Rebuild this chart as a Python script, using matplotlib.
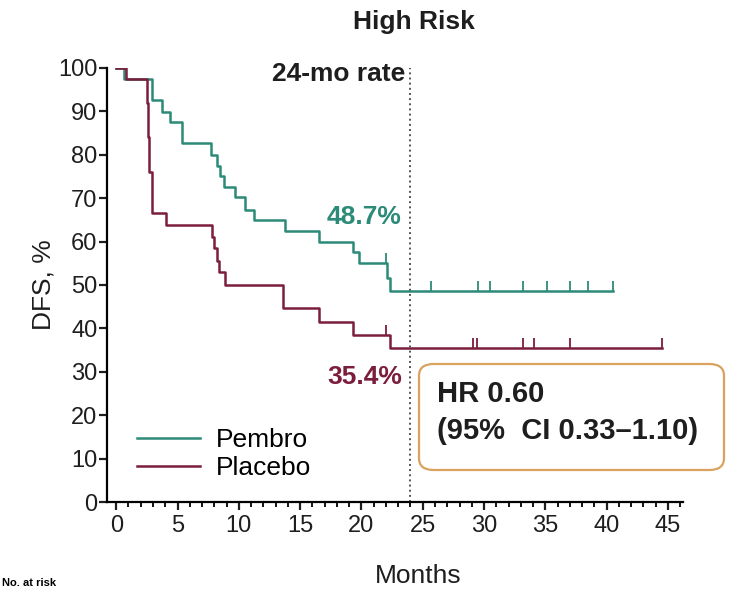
import matplotlib.pyplot as plt
from matplotlib.patches import FancyBboxPatch
import numpy as np

plt.rcParams['font.family'] = ['Liberation Sans', 'DejaVu Sans']

# Kaplan-Meier steps (time in months, DFS % after the step)
pembro_t = [0.6, 2.9, 3.7, 4.4, 5.4, 7.7, 8.2, 8.5, 8.8, 9.7, 10.5, 11.2, 13.8, 16.5, 19.3, 19.8, 22.1, 22.3]
pembro_s = [97.4, 92.6, 89.9, 87.6, 82.6, 80.0, 77.5, 75.0, 72.6, 70.3, 67.3, 65.0, 62.5, 60.0, 57.5, 55.0, 51.5, 48.7]
pembro_end = 40.5
pembro_cens = [22.0, 25.7, 29.5, 30.5, 33.2, 35.1, 37.0, 38.5, 40.5]

placebo_t = [0.8, 2.5, 2.6, 2.7, 2.9, 4.1, 7.8, 8.0, 8.2, 8.4, 8.9, 13.6, 16.5, 19.3, 22.3]
placebo_s = [97.4, 92.0, 84.0, 76.0, 66.5, 63.8, 61.0, 58.5, 55.5, 53.1, 50.0, 44.6, 41.5, 38.5, 35.4]
placebo_end = 44.5
placebo_cens = [22.0, 29.1, 29.4, 33.2, 34.1, 37.0, 44.5]

green = '#2c8a78'
maroon = '#7b1e3c'
txt = '#1e1e1e'


def km_level(times, surv, t):
    lvl = 100.0
    for ti, si in zip(times, surv):
        if ti <= t:
            lvl = si
    return lvl


fig = plt.figure(figsize=(7.38, 5.9), dpi=100)
ax = fig.add_axes([0.145, 0.149, 0.78, 0.736])

for times, surv, end, cens, col, name in [
        (pembro_t, pembro_s, pembro_end, pembro_cens, green, 'Pembro'),
        (placebo_t, placebo_s, placebo_end, placebo_cens, maroon, 'Placebo')]:
    x = [0] + times + [end]
    y = [100] + surv + [surv[-1]]
    ax.step(x, y, where='post', color=col, lw=1.8, label=name)
    cy = [km_level(times, surv, c) for c in cens]
    ax.plot(cens, cy, ls='none', marker=2, ms=7, mew=1.3, color=col)

ax.axvline(24, color='#555555', ls=':', lw=1.4)

ax.set_xlim(-0.75, 46.2)
ax.set_ylim(0, 100)
ax.set_xticks(np.arange(0, 46, 5))
ax.set_xticks(np.arange(0, 47, 1), minor=True)
ax.set_yticks(np.arange(0, 101, 10))
for s in ['top', 'right']:
    ax.spines[s].set_visible(False)
for s in ['left', 'bottom']:
    ax.spines[s].set_linewidth(1.6)
ax.tick_params(axis='both', which='major', width=1.6, length=6, labelsize=17, colors=txt)
ax.tick_params(axis='y', pad=1)
ax.tick_params(axis='x', which='minor', width=1.3, length=3.5)

ax.set_ylabel('DFS, %', fontsize=19, color=txt)
ax.yaxis.set_label_coords(-0.09, 0.5)
ax.set_xlabel('Months', fontsize=19, color=txt, va='center')
ax.xaxis.set_label_coords(0.54, -0.17)

fig.text(0.561, 0.962, 'High Risk', fontsize=19, fontweight='bold', ha='center', va='center', color=txt)

ax.text(23.55, 98.6, '24-mo rate', fontsize=19, fontweight='bold', ha='right', va='center', color=txt)
ax.text(23.3, 65.7, '48.7%', fontsize=19, fontweight='bold', ha='right', va='center', color=green)
ax.text(23.3, 28.8, '35.4%', fontsize=19, fontweight='bold', ha='right', va='center', color=maroon)

# HR box, in figure pixels
box = FancyBboxPatch((419 / 738, 1 - 470 / 590), 305 / 738, 106 / 590,
                     boxstyle='round,pad=0,rounding_size=0.02', transform=fig.transFigure,
                     fc='white', ec='#d9a25e', lw=1.6, clip_on=False)
fig.patches.append(box)
fig.text(437 / 738, 1 - 394 / 590, 'HR 0.60', fontsize=21, fontweight='bold', ha='left', va='center', color=txt)
fig.text(437 / 738, 1 - 431 / 590, '(95%  CI 0.33\u20131.10)', fontsize=21, fontweight='bold',
         ha='left', va='center', color=txt)

ax.legend(loc='upper left', bbox_to_anchor=(137 / 738, 1 - 428 / 590), bbox_transform=fig.transFigure,
          frameon=False, fontsize=19, handlelength=2.4, handletextpad=0.6, labelspacing=0.15,
          borderpad=0, borderaxespad=0)

fig.text(0.003, 0.003, 'No. at risk', fontsize=8, fontweight='bold', ha='left', va='bottom')

fig.savefig('out.png', dpi=100)
